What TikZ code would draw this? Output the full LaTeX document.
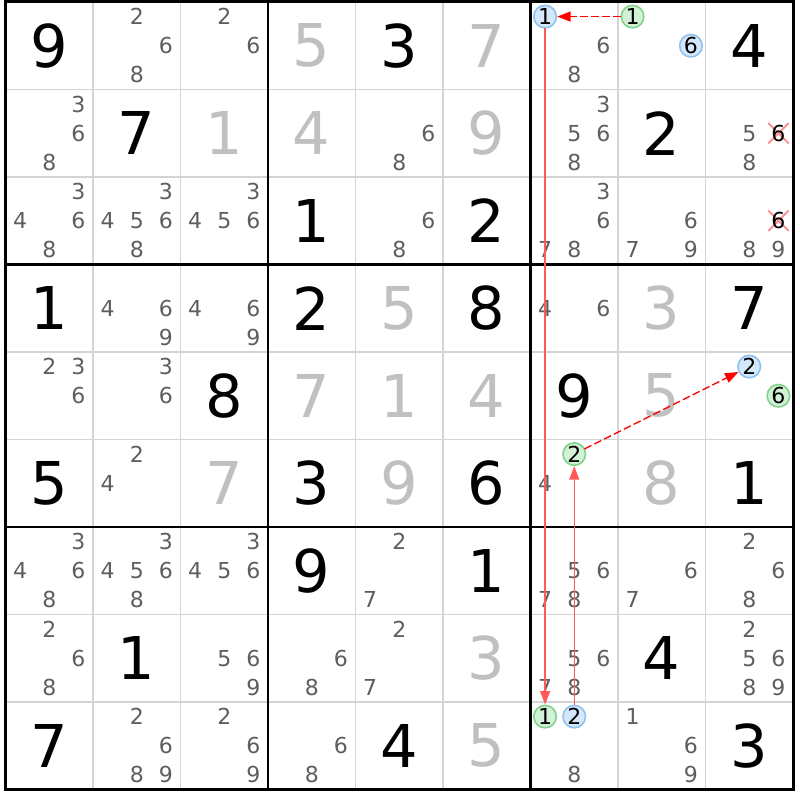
\documentclass[tikz,border=0pt]{standalone}
\usepackage{fontspec}
\setmainfont{DejaVu Sans}
\usetikzlibrary{arrows.meta}
\definecolor{gridgray}{HTML}{D4D4D4}
\definecolor{candgray}{HTML}{5E5E5E}
\definecolor{solvedgray}{HTML}{C0C0C0}
\definecolor{markblue}{HTML}{D5E8FB}
\definecolor{edgeblue}{HTML}{8DC1F2}
\definecolor{markgreen}{HTML}{D3F1D6}
\definecolor{edgegreen}{HTML}{7FD38B}
\definecolor{crossred}{HTML}{FF9090}
\definecolor{linkred}{HTML}{FF5A5A}
\tikzset{
  givendigit/.style={font=\fontsize{59}{59}\selectfont, inner sep=0pt},
  solveddigit/.style={givendigit, text=solvedgray},
  candtext/.style={font=\fontsize{22}{22}\selectfont, text=candgray, inner sep=0pt},
  bluemark/.style={circle, draw=edgeblue, fill=markblue, line width=1.6pt, minimum size=22.5pt, inner sep=0pt, font=\fontsize{22}{22}\selectfont},
  greenmark/.style={bluemark, draw=edgegreen, fill=markgreen},
  strong link/.style={linkred, line width=1.3pt, ->},
  weak link/.style={red, line width=1.3pt, dash pattern=on 6.5pt off 4.5pt, ->},
}
% cell centres and candidate spots
\newcommand{\putgiven}[3]{\node[givendigit] (g#1#2) at ({5.5+(#2-0.5)*87.5},{2+(#1-0.5)*87.5}) {#3};}
\newcommand{\putsolved}[3]{\node[solveddigit] (g#1#2) at ({5.5+(#2-0.5)*87.5},{2+(#1-0.5)*87.5}) {#3};}
\newcommand{\putcands}[3]{\foreach \d in {#3}{\node[candtext] (c#1#2\d) at ({5.5+(#2-1)*87.5+(2*mod(\d-1,3)+1)*87.5/6},{2+(#1-1)*87.5+(2*floor((\d-1)/3)+1)*87.5/6}) {\d};}}
\newcommand{\putmark}[4]{\node[#1] (m#2#3#4) at ({5.5+(#3-1)*87.5+(2*mod(#4-1,3)+1)*87.5/6},{2+(#2-1)*87.5+(2*floor((#4-1)/3)+1)*87.5/6}) {#4};}
\newcommand{\putcross}[3]{\coordinate (x#1#2) at ({5.5+(#2-1)*87.5+(2*mod(#3-1,3)+1)*87.5/6},{2+(#1-1)*87.5+(2*floor((#3-1)/3)+1)*87.5/6});
  \draw[crossred, line width=2pt] ([shift={(-9.5,-9.5)}]x#1#2) -- ([shift={(9.5,9.5)}]x#1#2) ([shift={(-9.5,9.5)}]x#1#2) -- ([shift={(9.5,-9.5)}]x#1#2);
  \node[candtext, text=black] (c#1#2#3) at (x#1#2) {#3};}
\begin{document}
\begin{tikzpicture}[x=1pt, y=-1pt, line cap=rect, >={Triangle[length=13.5pt, width=10pt]}]
  \useasboundingbox[fill=white] (0,0) rectangle (800,800);
  % Lưới
  \foreach \i in {1,2,4,5,7,8} {
    \draw[gridgray, line width=1.7pt] ({5.5+\i*87.5},2) -- ({5.5+\i*87.5},789.5);
    \draw[gridgray, line width=1.7pt] (5.5,{2+\i*87.5}) -- (793,{2+\i*87.5});
  }
  \foreach \i in {3,6} {
    \draw[line width=2.7pt] ({5.5+\i*87.5},2) -- ({5.5+\i*87.5},789.5);
    \draw[line width=2.7pt] (5.5,{2+\i*87.5}) -- (793,{2+\i*87.5});
  }
  \draw[line width=3pt] (5.5,2) rectangle (793,789.5);
  % Hàng 1
  \putgiven{1}{1}{9} \putcands{1}{2}{2,6,8} \putcands{1}{3}{2,6}
  \putsolved{1}{4}{5} \putgiven{1}{5}{3} \putsolved{1}{6}{7}
  \putmark{bluemark}{1}{7}{1} \putcands{1}{7}{6,8}
  \putmark{greenmark}{1}{8}{1} \putmark{bluemark}{1}{8}{6} \putgiven{1}{9}{4}
  % Hàng 2
  \putcands{2}{1}{3,6,8} \putgiven{2}{2}{7} \putsolved{2}{3}{1}
  \putsolved{2}{4}{4} \putcands{2}{5}{6,8} \putsolved{2}{6}{9}
  \putcands{2}{7}{3,5,6,8} \putgiven{2}{8}{2} \putcands{2}{9}{5,8} \putcross{2}{9}{6}
  % Hàng 3
  \putcands{3}{1}{3,4,6,8} \putcands{3}{2}{3,4,5,6,8} \putcands{3}{3}{3,4,5,6}
  \putgiven{3}{4}{1} \putcands{3}{5}{6,8} \putgiven{3}{6}{2}
  \putcands{3}{7}{3,6,7,8} \putcands{3}{8}{6,7,9} \putcands{3}{9}{8,9} \putcross{3}{9}{6}
  % Hàng 4
  \putgiven{4}{1}{1} \putcands{4}{2}{4,6,9} \putcands{4}{3}{4,6,9}
  \putgiven{4}{4}{2} \putsolved{4}{5}{5} \putgiven{4}{6}{8}
  \putcands{4}{7}{4,6} \putsolved{4}{8}{3} \putgiven{4}{9}{7}
  % Hàng 5
  \putcands{5}{1}{2,3,6} \putcands{5}{2}{3,6} \putgiven{5}{3}{8}
  \putsolved{5}{4}{7} \putsolved{5}{5}{1} \putsolved{5}{6}{4}
  \putgiven{5}{7}{9} \putsolved{5}{8}{5}
  \putmark{bluemark}{5}{9}{2} \putmark{greenmark}{5}{9}{6}
  % Hàng 6
  \putgiven{6}{1}{5} \putcands{6}{2}{2,4} \putsolved{6}{3}{7}
  \putgiven{6}{4}{3} \putsolved{6}{5}{9} \putgiven{6}{6}{6}
  \putmark{greenmark}{6}{7}{2} \putcands{6}{7}{4} \putsolved{6}{8}{8} \putgiven{6}{9}{1}
  % Hàng 7
  \putcands{7}{1}{3,4,6,8} \putcands{7}{2}{3,4,5,6,8} \putcands{7}{3}{3,4,5,6}
  \putgiven{7}{4}{9} \putcands{7}{5}{2,7} \putgiven{7}{6}{1}
  \putcands{7}{7}{5,6,7,8} \putcands{7}{8}{6,7} \putcands{7}{9}{2,6,8}
  % Hàng 8
  \putcands{8}{1}{2,6,8} \putgiven{8}{2}{1} \putcands{8}{3}{5,6,9}
  \putcands{8}{4}{6,8} \putcands{8}{5}{2,7} \putsolved{8}{6}{3}
  \putcands{8}{7}{5,6,7,8} \putgiven{8}{8}{4} \putcands{8}{9}{2,5,6,8,9}
  % Hàng 9
  \putgiven{9}{1}{7} \putcands{9}{2}{2,6,8,9} \putcands{9}{3}{2,6,9}
  \putcands{9}{4}{6,8} \putgiven{9}{5}{4} \putsolved{9}{6}{5}
  \putmark{greenmark}{9}{7}{1} \putmark{bluemark}{9}{7}{2} \putcands{9}{7}{8}
  \putcands{9}{8}{1,6,9} \putgiven{9}{9}{3}
  % Chuỗi
  \draw[weak link] (m181) -- (m171);
  \draw[strong link] (m171) -- (m971);
  \draw[strong link] (m972) -- (m672);
  \draw[weak link] (m672) -- (m592);
\end{tikzpicture}
\end{document}
